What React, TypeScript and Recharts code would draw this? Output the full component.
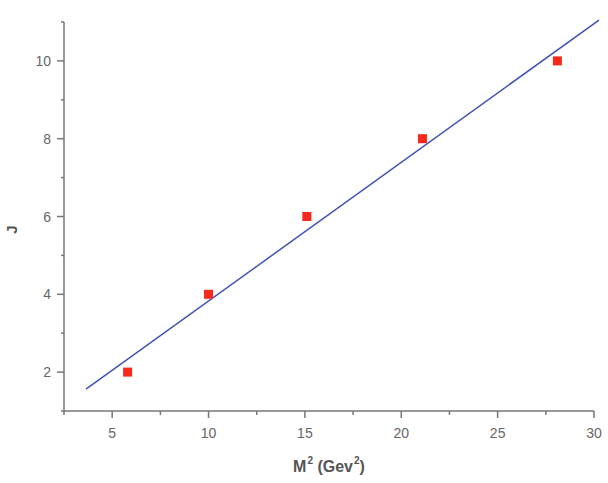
import { ScatterChart, Scatter, XAxis, YAxis, ReferenceLine, Label } from 'recharts';

// Regge trajectory: J against M^2
const massSq = [5.8, 10.0, 15.1, 21.1, 28.1];
const spin = [2, 4, 6, 8, 10];

// linear fit endpoints
const fitM2 = [3.64, 30.26];
const fitJ = [1.56, 11.05];

const xTicks = [2.5, 5, 7.5, 10, 12.5, 15, 17.5, 20, 22.5, 25, 27.5, 30];
const yTicks = [1, 2, 3, 4, 5, 6, 7, 8, 9, 10, 11];

const points = massSq.map((m, i) => ({ m2: m, j: spin[i] }));

const AXIS = '#777';
const TEXT = '#666';
const FONT = '"Liberation Sans", Arial, sans-serif';

const XTick = (props: any) => {
  const { x, y, payload } = props;
  const major = payload.value % 5 === 0;
  return (
    <g>
      <line x1={x} y1={y} x2={x} y2={y + (major ? 7 : 4)} stroke={AXIS} strokeWidth={1.5} />
      {major && (
        <text x={x} y={y + 27} textAnchor="middle" fill={TEXT} fontSize={14} fontFamily={FONT}>
          {payload.value}
        </text>
      )}
    </g>
  );
};

const YTick = (props: any) => {
  const { x, y, payload } = props;
  const major = payload.value % 2 === 0;
  return (
    <g>
      <line x1={x} y1={y} x2={x - (major ? 7 : 3)} y2={y} stroke={AXIS} strokeWidth={1.5} />
      {major && (
        <text x={x - 13} y={y + 5} textAnchor="end" fill={TEXT} fontSize={14} fontFamily={FONT}>
          {payload.value}
        </text>
      )}
    </g>
  );
};

const XTitle = (props: any) => {
  const { viewBox } = props;
  const cx = viewBox.x + viewBox.width / 2;
  return (
    <text x={cx} y={472} textAnchor="middle" fill="#555" fontSize={16} fontWeight="bold" fontFamily={FONT}>
      M<tspan fontSize={10} dx={1} dy={-8}>2</tspan>
      <tspan dy={8}> (Gev</tspan>
      <tspan fontSize={10} dx={1} dy={-8}>2</tspan>
      <tspan dy={8}>)</tspan>
    </text>
  );
};

const YTitle = (props: any) => {
  const { viewBox } = props;
  const cy = viewBox.y + viewBox.height / 2 + 13;
  return (
    <text
      x={17}
      y={cy}
      transform={`rotate(-90, 17, ${cy})`}
      textAnchor="middle"
      fill="#555"
      fontSize={15}
      fontWeight="bold"
      fontFamily={FONT}
    >
      J
    </text>
  );
};

const Square = (props: any) => {
  const { cx, cy } = props;
  return <rect x={cx - 4.5} y={cy - 4.5} width={9} height={9} fill="#f52a1c" />;
};

export default function App() {
  return (
    <div style={{ position: 'absolute', left: 0, top: 0, background: '#fff' }}>
      <ScatterChart width={608} height={483} margin={{ top: 22, right: 14, bottom: 0, left: 0 }}>
        <XAxis
          type="number"
          dataKey="m2"
          domain={[2.5, 30]}
          ticks={xTicks}
          allowDataOverflow
          height={72}
          tickSize={0}
          tickMargin={0}
          tick={<XTick />}
          tickLine={false}
          axisLine={{ stroke: AXIS, strokeWidth: 1.5 }}
        >
          <Label content={<XTitle />} />
        </XAxis>
        <YAxis
          type="number"
          dataKey="j"
          domain={[1, 11]}
          ticks={yTicks}
          allowDataOverflow
          width={64}
          tickSize={0}
          tickMargin={0}
          tick={<YTick />}
          tickLine={false}
          axisLine={{ stroke: AXIS, strokeWidth: 1.5 }}
        >
          <Label content={<YTitle />} />
        </YAxis>
        <ReferenceLine
          segment={[
            { x: fitM2[0], y: fitJ[0] },
            { x: fitM2[1], y: fitJ[1] },
          ]}
          ifOverflow="visible"
          stroke="#3f51b5"
          strokeWidth={1.5}
        />
        <Scatter data={points} shape={<Square />} isAnimationActive={false} />
      </ScatterChart>
    </div>
  );
}
